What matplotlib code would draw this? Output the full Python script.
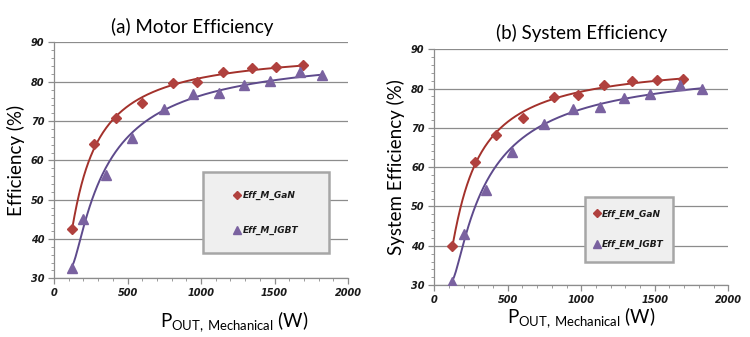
import numpy as np
import matplotlib
matplotlib.use("Agg")
import matplotlib.pyplot as plt
from matplotlib.ticker import MultipleLocator
from matplotlib.patches import Rectangle
from matplotlib import font_manager as fm

plt.rcParams['font.family'] = ['Lato', 'DejaVu Sans']
plt.rcParams['mathtext.default'] = 'regular'

# Data
p_gan = [124, 274, 422, 601, 812, 975, 1152, 1345, 1512, 1692]
p_igbt = [124, 200, 351, 531, 748, 943, 1125, 1290, 1467, 1673, 1823]

motor_gan = [42.6, 64.2, 70.7, 74.6, 79.7, 79.9, 82.4, 83.6, 83.8, 84.3]
motor_igbt = [32.7, 45.0, 56.2, 65.8, 73.0, 76.8, 77.2, 79.1, 80.2, 82.4, 81.6]

sys_gan = [39.9, 61.4, 68.3, 72.6, 77.9, 78.3, 80.8, 82.0, 82.2, 82.4]
sys_igbt = [30.7, 43.0, 54.3, 63.8, 70.9, 74.9, 75.4, 77.5, 78.6, 80.8, 79.8]

titles = ["(a) Motor Efficiency", "(b) System Efficiency"]
ylabels = ["Efficiency (%)", "System Efficiency (%)"]
legend_labels = [["Eff_M_GaN", "Eff_M_IGBT"], ["Eff_EM_GaN", "Eff_EM_IGBT"]]
xticks = [0, 500, 1000, 1500, 2000]
yticks = [30, 40, 50, 60, 70, 80, 90]

red_m = "#B0413E"
red_l = "#A3312B"
pur_m = "#7A62A0"
pur_l = "#5E4A8C"

tick_font = fm.FontProperties(family='DejaVu Sans', weight='bold',
                              style='oblique', size=7)
leg_font = fm.FontProperties(family='DejaVu Sans', weight='bold',
                             style='oblique', size=6.5)


def trend(x, y):
    x = np.asarray(x, float)
    y = np.asarray(y, float)
    c = np.polyfit(1.0 / x, y, 2)
    xs = np.linspace(x.min(), x.max(), 300)
    return xs, np.polyval(c, 1.0 / xs)


fig = plt.figure(figsize=(7.5, 3.37), dpi=100)
ax1 = fig.add_axes([0.072, 0.174, 0.392, 0.700])
ax2 = fig.add_axes([0.579, 0.154, 0.392, 0.700])

datasets = [(motor_gan, motor_igbt), (sys_gan, sys_igbt)]
# legend boxes in axes fraction: x0, y0, w, h
legend_box = [(0.508, 0.106, 0.429, 0.343), (0.513, 0.099, 0.298, 0.275)]
legend_spacing = [2.9, 2.35]
xlabel_xy = [(0.612, -0.13), (0.5, -0.085)]
title_x = [0.47, 0.5]

for i, ax in enumerate([ax1, ax2]):
    g, b = datasets[i]
    xs, ys = trend(p_gan, g)
    ax.plot(xs, ys, color=red_l, lw=1.4, zorder=3)
    xs, ys = trend(p_igbt, b)
    ax.plot(xs, ys, color=pur_l, lw=1.4, zorder=3)
    h1, = ax.plot(p_gan, g, linestyle='none', marker='D', ms=5, color=red_m,
                  zorder=4, label=legend_labels[i][0])
    h2, = ax.plot(p_igbt, b, linestyle='none', marker='^', ms=7, color=pur_m,
                  zorder=4, label=legend_labels[i][1])
    ax.set_xlim(0, 2000)
    ax.set_ylim(30, 90)
    ax.set_xticks(xticks)
    ax.set_yticks(yticks)
    ax.xaxis.set_minor_locator(MultipleLocator(100))
    ax.yaxis.set_minor_locator(MultipleLocator(2))
    ax.grid(axis='y', which='major', color='#8C8C8C', lw=0.9)
    ax.set_axisbelow(True)
    for s in ['top', 'right']:
        ax.spines[s].set_visible(False)
    for s in ['left', 'bottom']:
        ax.spines[s].set_color('#8C8C8C')
        ax.spines[s].set_linewidth(0.9)
    ax.tick_params(which='major', length=4, color='#8C8C8C', width=0.9,
                   labelcolor='#1a1a1a', pad=3)
    ax.tick_params(which='minor', length=2, color='#8C8C8C', width=0.6)
    for lab in ax.get_xticklabels() + ax.get_yticklabels():
        lab.set_fontproperties(tick_font)
    ax.set_title(titles[i], fontsize=13.5, pad=7, x=title_x[i])
    ax.set_ylabel(ylabels[i], fontsize=13.5, labelpad=4)
    ax.set_xlabel(r'P$_{\mathregular{OUT,\,Mechanical}}$ (W)', fontsize=13.5)
    ax.xaxis.set_label_coords(*xlabel_xy[i])
    lx, ly, lw_, lh = legend_box[i]
    rect = Rectangle((lx, ly), lw_, lh, transform=ax.transAxes, facecolor='#EFEFEF',
                     edgecolor='#A6A6A6', linewidth=1.8, zorder=5, clip_on=False)
    ax.add_patch(rect)
    leg = ax.legend(handles=[h1, h2], loc='center',
                    bbox_to_anchor=(lx + lw_ / 2, ly + lh / 2), bbox_transform=ax.transAxes,
                    frameon=False, handlelength=0.6, markerscale=0.8,
                    handletextpad=0.3, labelspacing=legend_spacing[i], borderpad=0.2,
                    prop=leg_font)
    for t in leg.get_texts():
        t.set_color('#1a1a1a')
    leg.set_zorder(6)

fig.savefig("out.png", dpi=100)
